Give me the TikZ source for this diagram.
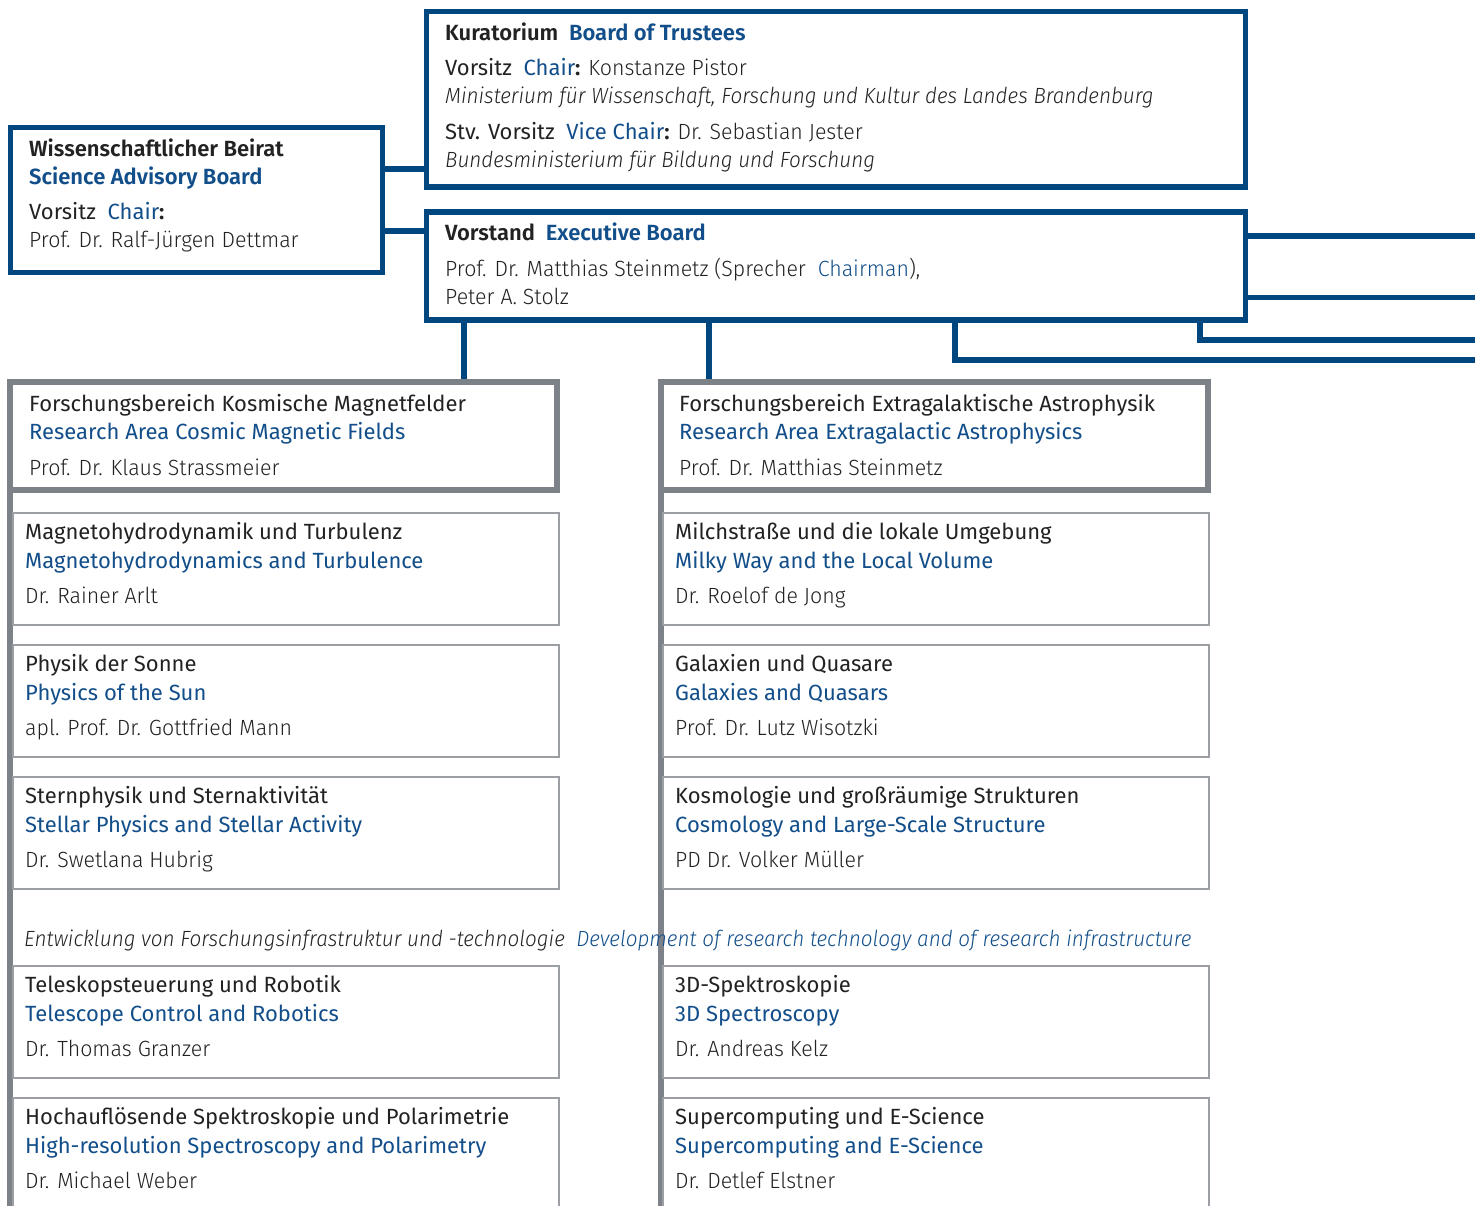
\documentclass[tikz,border=0pt]{standalone}
\usepackage{fontspec}
\setmainfont{Fira Sans}[UprightFont=* Light, ItalicFont=* Light Italic, BoldFont=* SemiBold,
  UprightFeatures={FakeStretch=0.97}, ItalicFeatures={FakeStretch=0.94}]
\newfontfamily\regf{Fira Sans}
\definecolor{frameblue}{HTML}{00467F}
\definecolor{tblue}{HTML}{124E8A}
\definecolor{areagray}{HTML}{7C8287}
\definecolor{unitgray}{HTML}{9B9FA3}
\definecolor{ink}{HTML}{222222}
\newcommand{\bl}[1]{\textcolor{tblue}{#1}}
\tikzset{
  frame/.style={rectangle, inner sep=0pt, outer sep=0pt, anchor=north west},
  bluebox/.style={frame, draw=frameblue, line width=5.5pt, fill=white},
  areabox/.style={frame, draw=areagray, line width=5.5pt, fill=white, minimum width=547pt, minimum height=108pt},
  unitbox/.style={frame, draw=unitgray, line width=1.3pt, fill=white, minimum width=546pt, minimum height=112pt},
  blueline/.style={draw=frameblue, line width=5.5pt},
  spine/.style={draw=areagray, line width=5.5pt},
  txt/.style={anchor=base west, inner sep=0pt, text=ink, font=\fontsize{22}{26}\selectfont},
}
% one research unit: name, x, y (top left), German title, English title, head
\newcommand{\unit}[6]{%
  \node[unitbox] (#1) at (#2,#3) {};
  \node[txt] (#1-de) at (#2+12,#3+26) {\regf #4};
  \node[txt] (#1-en) at (#2+12,#3+55) {\regf\bl{#5}};
  \node[txt] (#1-head) at (#2+12,#3+90) {#6};
}
\begin{document}
\begin{tikzpicture}[x=1pt,y=-1pt]
\useasboundingbox (0,0) rectangle (1475,1205);

% helper coordinates for the connector rows and columns
\coordinate (rowK) at (0,169);
\coordinate (rowV) at (0,231);
\coordinate (colL) at (464,0);
\coordinate (colR) at (709,0);
\coordinate (colA) at (955,0);
\coordinate (colB) at (1200,0);
\coordinate (out1) at (1480,236);
\coordinate (out2) at (1480,297.5);
\coordinate (out3) at (1480,340);
\coordinate (out4) at (1480,360);
\coordinate (spineLend) at (10,1210);
\coordinate (spineRend) at (661,1210);

% boxes of the governing bodies
\node[bluebox, minimum width=819pt, minimum height=175.5pt] (kurat) at (426.5,11.5) {};
\node[bluebox, minimum width=819pt, minimum height=108pt] (vorstand) at (426.5,212) {};
\node[bluebox, minimum width=372pt, minimum height=145pt] (beirat) at (10.5,127.5) {};

% connectors
\draw[blueline] (beirat.east |- rowK) -- (kurat.west |- rowK);
\draw[blueline] (beirat.east |- rowV) -- (vorstand.west |- rowV);
\draw[blueline] (vorstand.east |- out1) -- (out1);
\draw[blueline] (vorstand.east |- out2) -- (out2);
\draw[blueline] (vorstand.south -| colB) -- (colB |- out3) -- (out3);
\draw[blueline] (vorstand.south -| colA) -- (colA |- out4) -- (out4);

% research area frames and their spines
\node[areabox] (areaL) at (10,382) {};
\node[areabox] (areaR) at (661,382) {};
\draw[spine] (areaL.south west) -- (spineLend);
\draw[spine] (areaR.south west) -- (spineRend);
\draw[blueline] (vorstand.south -| colL) -- (areaL.north -| colL);
\draw[blueline] (vorstand.south -| colR) -- (areaR.north -| colR);

% frames drawn again over the connector ends
\node[bluebox, minimum width=819pt, minimum height=175.5pt, fill=none] (kuratF) at (426.5,11.5) {};
\node[bluebox, minimum width=819pt, minimum height=108pt, fill=none] (vorstandF) at (426.5,212) {};
\node[bluebox, minimum width=372pt, minimum height=145pt, fill=none] (beiratF) at (10.5,127.5) {};
\node[areabox, fill=none] (areaLF) at (10,382) {};
\node[areabox, fill=none] (areaRF) at (661,382) {};

% Kuratorium
\node[txt] (k1) at (445,40) {\textbf{Kuratorium\ \ \bl{Board of Trustees}}};
\node[txt] (k2) at (445,75) {{\regf Vorsitz\ \ \bl{Chair}}\textbf{:} Konstanze Pistor};
\node[txt] (k3) at (445,103) {\textit{Ministerium für Wissenschaft, Forschung und Kultur des Landes Brandenburg}};
\node[txt] (k4) at (445,139) {{\regf Stv. Vorsitz\ \ \bl{Vice Chair}}\textbf{:} Dr. Sebastian Jester};
\node[txt] (k5) at (445,167) {\textit{Bundesministerium für Bildung und Forschung}};

% Wissenschaftlicher Beirat
\node[txt] (b1) at (29,156) {\textbf{Wissenschaftlicher Beirat}};
\node[txt] (b2) at (29,184) {\textbf{\bl{Science Advisory Board}}};
\node[txt] (b3) at (29,219) {{\regf Vorsitz\ \ \bl{Chair}}\textbf{:}};
\node[txt] (b4) at (29,247) {Prof. Dr. Ralf-Jürgen Dettmar};

% Vorstand
\node[txt] (v1) at (445,240) {\textbf{Vorstand\ \ \bl{Executive Board}}};
\node[txt] (v2) at (445,276) {Prof. Dr. Matthias Steinmetz (Sprecher\ \ \bl{Chairman}),};
\node[txt] (v3) at (445,304) {Peter A. Stolz};

% research areas
\node[txt] (aL1) at (29,411) {\regf Forschungsbereich Kosmische Magnetfelder};
\node[txt] (aL2) at (29,439) {\regf\bl{Research Area Cosmic Magnetic Fields}};
\node[txt] (aL3) at (29,475) {Prof. Dr. Klaus Strassmeier};
\node[txt] (aR1) at (679,411) {\regf Forschungsbereich Extragalaktische Astrophysik};
\node[txt] (aR2) at (679,439) {\regf\bl{Research Area Extragalactic Astrophysics}};
\node[txt] (aR3) at (679,475) {Prof. Dr. Matthias Steinmetz};

% research units, left column
\unit{uL1}{13}{513}{Magnetohydrodynamik und Turbulenz}{Magnetohydrodynamics and Turbulence}{Dr. Rainer Arlt}
\unit{uL2}{13}{645}{Physik der Sonne}{Physics of the Sun}{apl. Prof. Dr. Gottfried Mann}
\unit{uL3}{13}{777}{Sternphysik und Sternaktivität}{Stellar Physics and Stellar Activity}{Dr. Swetlana Hubrig}
\unit{uL4}{13}{966}{Teleskopsteuerung und Robotik}{Telescope Control and Robotics}{Dr. Thomas Granzer}
\unit{uL5}{13}{1098}{Hochauflösende Spektroskopie und Polarimetrie}{High-resolution Spectroscopy and Polarimetry}{Dr. Michael Weber}

% research units, right column
\unit{uR1}{663}{513}{Milchstraße und die lokale Umgebung}{Milky Way and the Local Volume}{Dr. Roelof de Jong}
\unit{uR2}{663}{645}{Galaxien und Quasare}{Galaxies and Quasars}{Prof. Dr. Lutz Wisotzki}
\unit{uR3}{663}{777}{Kosmologie und großräumige Strukturen}{Cosmology and Large-Scale Structure}{PD Dr. Volker Müller}
\unit{uR4}{663}{966}{3D-Spektroskopie}{3D Spectroscopy}{Dr. Andreas Kelz}
\unit{uR5}{663}{1098}{Supercomputing und E-Science}{Supercomputing and E-Science}{Dr. Detlef Elstner}

% infrastructure heading
\node[txt] (infra) at (24,946) {\textit{Entwicklung von Forschungsinfrastruktur und -technologie\ \ \bl{Development of research technology and of research infrastructure}}};
\end{tikzpicture}
\end{document}
